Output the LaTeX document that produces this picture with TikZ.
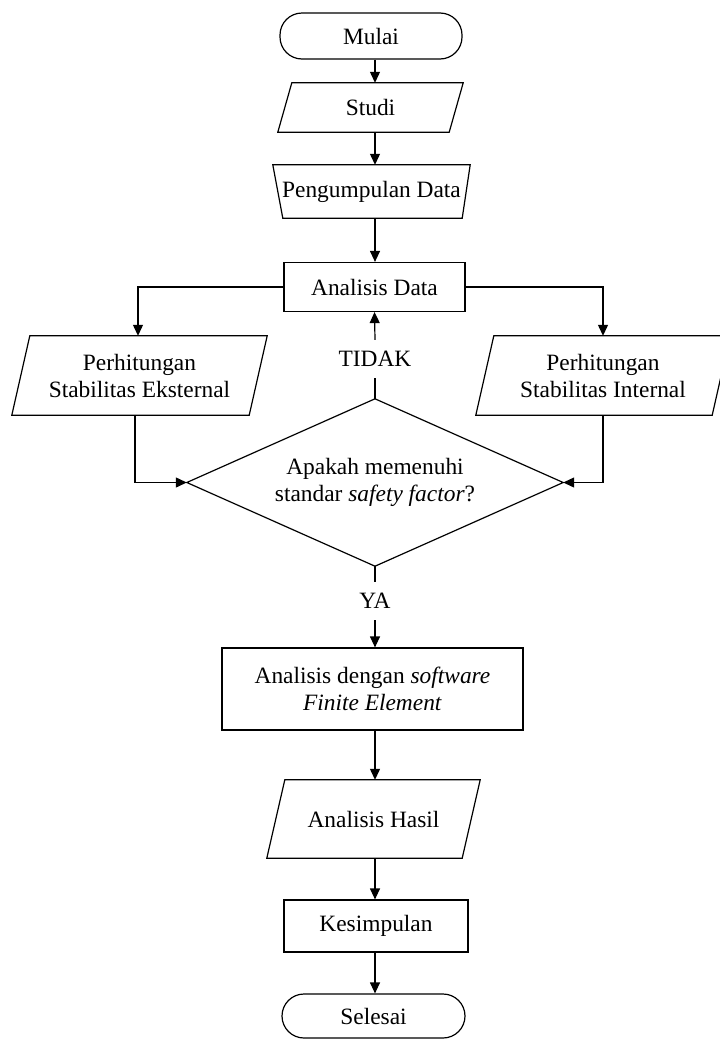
\documentclass[tikz,border=0pt]{standalone}
\usepackage{fontspec}
\setmainfont{Liberation Serif}
\usetikzlibrary{arrows.meta,calc}
\newcommand\paraoutline[2]{\draw[outl] ([xshift=#2]#1.north west) -- (#1.north east) -- ([xshift=-#2]#1.south east) -- (#1.south west) -- cycle;}
\begin{document}
\begin{tikzpicture}[x=1pt,y=-1pt,
  every node/.style={font=\fontsize{23.4}{27}\selectfont, align=center, inner sep=0pt},
  term/.style={draw, line width=1.2pt, rounded corners=22pt},
  proc/.style={draw, line width=1.2pt},
  outl/.style={line width=1.2pt, line join=miter},
  ln/.style={line width=1.2pt},
  arr/.style={ln, -{Triangle[length=11pt,width=10pt]}}
]
\useasboundingbox (0,0) rectangle (720,1039);
\coordinate (col) at (375,0);

\node[term, minimum width=182pt, minimum height=46pt] (mulai) at (371,36) {Mulai};
\node[minimum width=185pt, minimum height=49pt] (studi) at (370.5,107.5) {Studi};
\node[minimum width=197pt, minimum height=53pt] (peng) at (371.5,191.5) {Pengumpulan Data};
\node[proc, minimum width=181pt, minimum height=49pt] (anal) at (374.5,287) {Analisis Data};
\node[minimum width=255pt, minimum height=79pt] (ext) at (139.5,375.5) {Perhitungan\\Stabilitas Eksternal};
\node[minimum width=254pt, minimum height=79pt] (int) at (603,375.5) {Perhitungan\\Stabilitas Internal};
\node[minimum width=376pt, minimum height=167pt] (dec) at (375,482.5) {Apakah memenuhi\\standar \textit{safety factor}?};
\node[minimum height=38pt] (tidak) at (375,359) {TIDAK};
\node[minimum height=38pt] (ya) at (375,601) {YA};
\node[proc, minimum width=301pt, minimum height=82pt] (soft) at (372.5,689) {Analisis dengan \textit{software}\\\textit{Finite Element}};
\node[minimum width=213pt, minimum height=78pt] (hasil) at (373.5,819) {Analisis Hasil};
\node[proc, minimum width=184pt, minimum height=52pt] (kes) at (376,926) {Kesimpulan};
\node[term, minimum width=183pt, minimum height=44pt] (sel) at (373.5,1016) {Selesai};

% outlines
\paraoutline{studi}{14pt}
\paraoutline{ext}{18pt}
\paraoutline{int}{18pt}
\paraoutline{hasil}{18pt}
\draw[outl] (peng.north west) -- (peng.north east) -- ([xshift=-8pt]peng.south east) -- ([xshift=10pt]peng.south west) -- cycle;
\draw[outl] (dec.north) -- (dec.east) -- (dec.south) -- (dec.west) -- cycle;

% connectors
\draw[arr] (mulai.south -| col) -- (studi.north -| col);
\draw[arr] (studi.south -| col) -- (peng.north -| col);
\draw[arr] (peng.south -| col) -- (anal.north -| col);
\draw[arr] (anal.west) -| ([xshift=-1.5pt]ext.north);
\draw[arr] (anal.east) -| (int.north);
\draw[arr] ([xshift=-4.5pt]ext.south) |- (dec.west);
\draw[arr] (int.south) |- (dec.east);
\draw[ln] (dec.north) -- (tidak.south);
\draw[arr] (tidak.north) -- (anal.south);
\draw[ln] (dec.south) -- (ya.north);
\draw[arr] (ya.south) -- (soft.north -| col);
\draw[arr] (soft.south -| col) -- (hasil.north -| col);
\draw[arr] (hasil.south -| col) -- (kes.north -| col);
\draw[arr] (kes.south -| col) -- (sel.north -| col);
\end{tikzpicture}
\end{document}
